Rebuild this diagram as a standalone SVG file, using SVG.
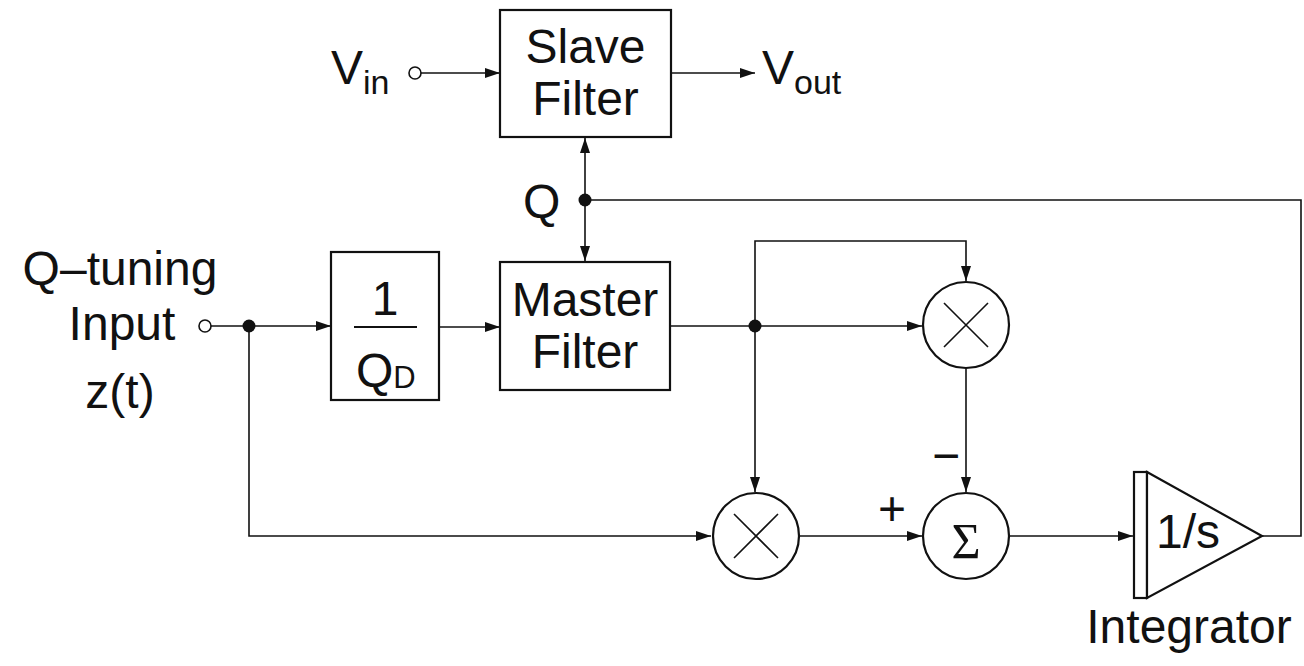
<svg xmlns="http://www.w3.org/2000/svg" width="1304" height="666" viewBox="0 0 1304 666">
<defs>
<marker id="arr" markerUnits="userSpaceOnUse" markerWidth="16" markerHeight="12" refX="15" refY="5" orient="auto">
<path d="M0,0 L15,5 L0,10 z" fill="#111"/>
</marker>
<style>
.box{fill:#fff;stroke:#111;stroke-width:2.2}
.ln{fill:none;stroke:#111;stroke-width:1.6}
.ar{fill:none;stroke:#111;stroke-width:1.6;marker-end:url(#arr)}
.t{font-family:"Liberation Sans",Arial,sans-serif;fill:#111;font-size:48px}
.c{text-anchor:middle}
.dot{fill:#111}
.open{fill:#fff;stroke:#111;stroke-width:1.6}
</style>
</defs>
<rect width="1304" height="666" fill="#fff"/>

<g id="connectors">
<path class="ar" d="M421,73 L500,73"/>
<path class="ar" d="M671,73 L755,73"/>
<path class="ar" d="M585,200 L585,138"/>
<path class="ar" d="M585,200 L585,261"/>
<path class="ln" d="M585,200 L1301,200 L1301,536 L1262,536"/>
<path class="ar" d="M211,326 L331,326"/>
<path class="ar" d="M440,327 L500,327"/>
<path class="ar" d="M670,326 L922,326"/>
<path class="ar" d="M755,326 L755,241 L966,241 L966,281"/>
<path class="ar" d="M755,326 L755,492"/>
<path class="ar" d="M249,326 L249,536 L711,536"/>
<path class="ar" d="M799,536 L922,536"/>
<path class="ar" d="M966,368 L966,492"/>
<path class="ar" d="M1009,536 L1133,536"/>
</g>

<g id="vin">
<text class="t" x="331" y="84">V<tspan font-size="34" dy="10">in</tspan></text>
<circle class="open" cx="415" cy="73" r="6"/>
</g>

<g id="vout">
<text class="t" x="762" y="84">V<tspan font-size="34" dy="10">out</tspan></text>
</g>

<g id="slave">
<rect class="box" x="500" y="10" width="171" height="127"/>
<text class="t c" x="585.5" y="63">Slave</text>
<text class="t c" x="585.5" y="115">Filter</text>
</g>

<g id="qnode">
<circle class="dot" cx="585" cy="200" r="6.5"/>
<text class="t" x="523" y="218">Q</text>
</g>

<g id="qtuning">
<text class="t c" x="120" y="285">Q–tuning</text>
<text class="t c" x="122" y="340">Input</text>
<text class="t c" x="120" y="408">z(t)</text>
<circle class="open" cx="205" cy="326" r="6"/>
<circle class="dot" cx="249" cy="326" r="6.5"/>
</g>

<g id="invqd">
<rect class="box" x="331" y="252" width="108" height="148"/>
<text class="t c" x="385" y="315" font-size="44">1</text>
<line x1="354" y1="327" x2="417" y2="327" stroke="#111" stroke-width="2.2"/>
<text class="t" x="356" y="387" font-size="44">Q<tspan font-size="31" dy="1">D</tspan></text>
</g>

<g id="master">
<rect class="box" x="500" y="262" width="170" height="128"/>
<text class="t c" x="585" y="316">Master</text>
<text class="t c" x="585" y="368">Filter</text>
</g>

<circle class="dot" cx="755" cy="326" r="6.5"/>

<g id="mult1">
<circle class="box" cx="966" cy="325" r="43"/>
<path class="ln" d="M944,303 L988,347 M988,303 L944,347"/>
</g>

<g id="mult2">
<circle class="box" cx="756" cy="536" r="43"/>
<path class="ln" d="M734,514 L778,558 M778,514 L734,558"/>
</g>

<g id="sum">
<circle class="box" cx="966" cy="536" r="43"/>
<text class="c" x="966" y="558" font-family="'Liberation Serif','Times New Roman',serif" font-size="50" fill="#111">Σ</text>
<text class="t c" x="892" y="525" font-size="30">+</text>
<text class="t c" x="946" y="472" font-size="30">−</text>
</g>

<g id="integrator">
<rect class="box" x="1134" y="472" width="13" height="126"/>
<path class="box" d="M1147,472 L1262,536 L1147,598 z"/>
<text class="t" x="1156" y="548" font-size="46">1/s</text>
<text class="t c" x="1189" y="643">Integrator</text>
</g>
</svg>
